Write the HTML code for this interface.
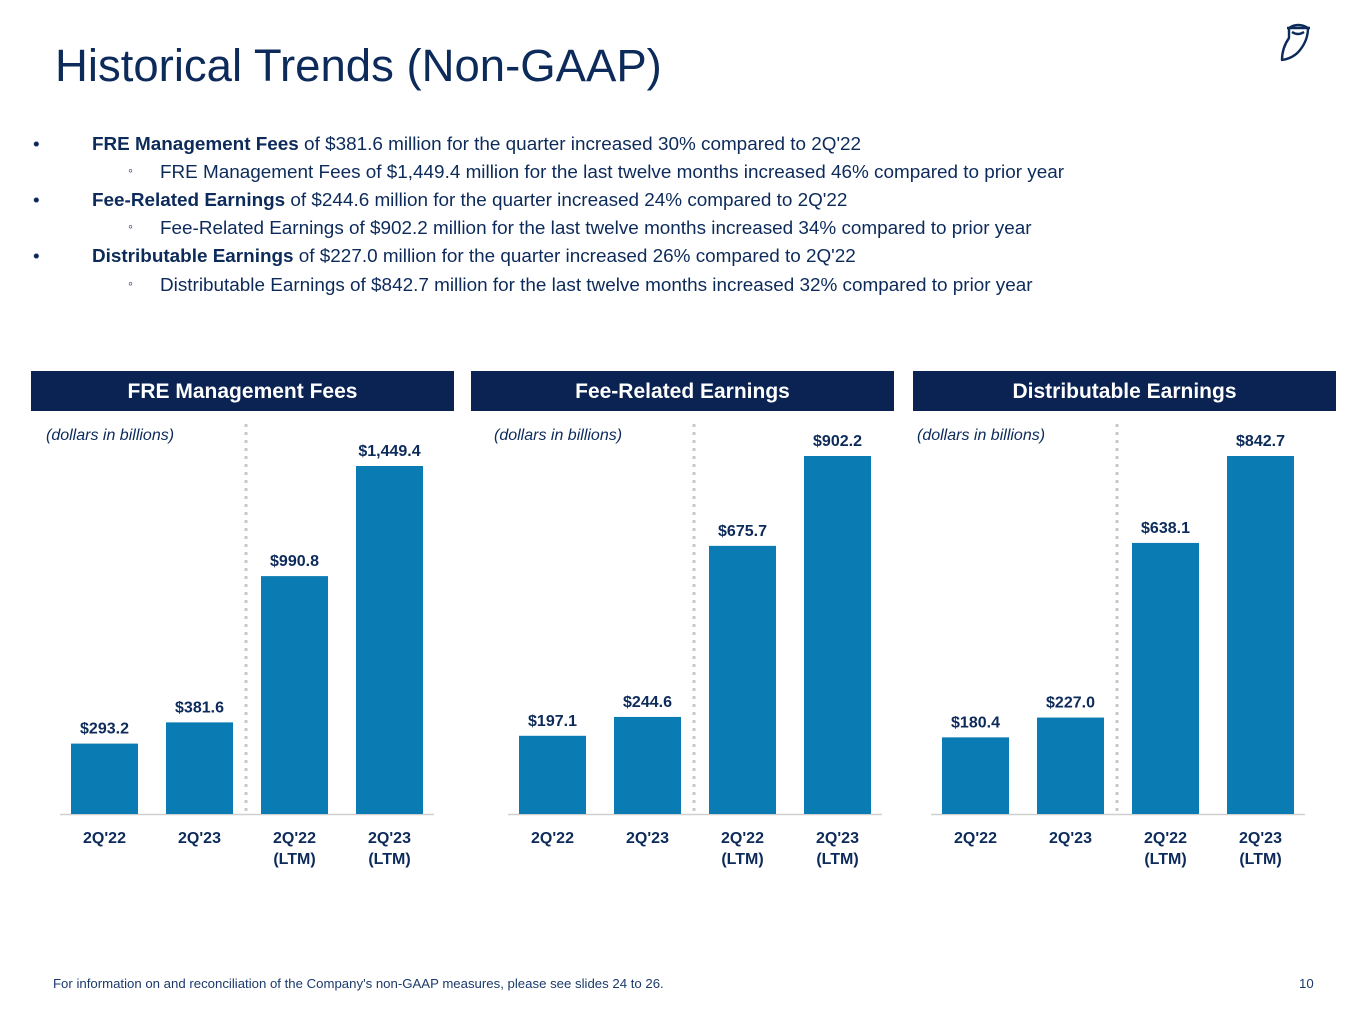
<!DOCTYPE html>
<html><head><meta charset="utf-8"><style>
body{margin:0;width:1365px;height:1024px;background:#fff;font-family:"Liberation Sans",Arial,sans-serif;position:relative;overflow:hidden}
.a{position:absolute}
h1{position:absolute;left:55px;top:40px;margin:0;font-weight:normal;font-size:45.5px;color:#0c2a5a}
.b{position:absolute;font-size:18.9px;color:#0c2a5a;white-space:nowrap}
.d{position:absolute;font-size:18.9px;color:#0c2a5a}
.hdr{position:absolute;top:371px;height:40px;width:423px;background:#0a2352;color:#fff;font-weight:bold;font-size:21px;text-align:center;line-height:42px}
.foot{position:absolute;top:976px;font-size:13.2px;color:#1b3a6b}
</style></head><body>
<h1>Historical Trends (Non-GAAP)</h1>
<svg class="a" style="left:1276px;top:20px" width="46" height="46" viewBox="0 0 46 46"><g fill="none" stroke="#0c2a5a" stroke-width="2.4" stroke-linejoin="round"><path d="M13 8 Q22 2 32 8 Q32 20 24 30 Q18 38 6 40 Q6 28 13 18 Z"/><path d="M11 8 L34 8"/><path d="M16 12 Q22 16 28 12"/></g></svg>
<div class="d" style="left:33px;top:134px">•</div>
<div class="b" style="left:92px;top:134px"><b>FRE Management Fees</b> of $381.6 million for the quarter increased 30% compared to 2Q'22</div>
<div class="d" style="left:128px;top:162px;font-size:14px">◦</div>
<div class="b" style="left:160px;top:162px">FRE Management Fees of $1,449.4 million for the last twelve months increased 46% compared to prior year</div>
<div class="d" style="left:33px;top:190px">•</div>
<div class="b" style="left:92px;top:190px"><b>Fee-Related Earnings</b> of $244.6 million for the quarter increased 24% compared to 2Q'22</div>
<div class="d" style="left:128px;top:218px;font-size:14px">◦</div>
<div class="b" style="left:160px;top:218px">Fee-Related Earnings of $902.2 million for the last twelve months increased 34% compared to prior year</div>
<div class="d" style="left:33px;top:246px">•</div>
<div class="b" style="left:92px;top:246px"><b>Distributable Earnings</b> of $227.0 million for the quarter increased 26% compared to 2Q'22</div>
<div class="d" style="left:128px;top:275px;font-size:14px">◦</div>
<div class="b" style="left:160px;top:275px">Distributable Earnings of $842.7 million for the last twelve months increased 32% compared to prior year</div>
<div class="hdr" style="left:31px">FRE Management Fees</div>
<div class="hdr" style="left:471px">Fee-Related Earnings</div>
<div class="hdr" style="left:913px">Distributable Earnings</div>
<svg id="c" class="a" style="left:0;top:0" width="1365" height="1024"></svg>
<div class="foot" style="left:53px">For information on and reconciliation of the Company's non-GAAP measures, please see slides 24 to 26.</div>
<div class="foot" style="left:1299px">10</div>
<script>
const categories=["2Q'22","2Q'23","2Q'22|(LTM)","2Q'23|(LTM)"];
const freFees=[293.2,381.6,990.8,1449.4];
const freEarnings=[197.1,244.6,675.7,902.2];
const distEarnings=[180.4,227.0,638.1,842.7];
const panels=[{vals:freFees,x0:71,maxH:348,name:'fre-fees'},{vals:freEarnings,x0:519,maxH:358,name:'fre-earnings'},{vals:distEarnings,x0:942,maxH:358,name:'de'}];
const svg=document.getElementById('c');const NS='http://www.w3.org/2000/svg';
function mk(t,a){const e=document.createElementNS(NS,t);for(const k in a)e.setAttribute(k,a[k]);svg.appendChild(e);return e;}
const base=814,step=95,bw=67;
panels.forEach(p=>{
 const mx=Math.max(...p.vals);const y=v=>base-v/mx*p.maxH;
 const it=mk('text',{x:p.x0-25,y:440,'font-size':16,'font-style':'italic',fill:'#0c2a5a','font-family':'Liberation Sans'});it.textContent='(dollars in billions)';
 
 
 const sep=mk('line',{x1:p.x0+175,x2:p.x0+175,y1:424,y2:base,stroke:'#c8c8c8','stroke-width':3,'stroke-dasharray':'3 5'});
 
 
 const ax=mk('line',{x1:p.x0-11,x2:p.x0+3*step+bw+11,y1:base+0.5,y2:base+0.5,stroke:'#d0d0d0','stroke-width':1.5});
 
 
 p.vals.forEach((v,i)=>{
  const x=p.x0+i*step;
  const r=mk('rect',{x:x,y:y(v),width:bw,height:base-y(v),fill:'#0a7bb3'});
  
  
  const t=mk('text',{x:x+bw/2,y:y(v)-10,'text-anchor':'middle','font-size':16,'font-weight':'bold',fill:'#0c2a5a','font-family':'Liberation Sans'});
  t.textContent='$'+v.toLocaleString('en-US',{minimumFractionDigits:1,maximumFractionDigits:1});
  
  
  categories[i].split('|').forEach((s,j)=>{
   const c=mk('text',{x:x+bw/2,y:843+j*21,'text-anchor':'middle','font-size':16,'font-weight':'bold',fill:'#0c2a5a','font-family':'Liberation Sans'});
   c.textContent=s;
   
   
  });
 });
});
</script>
</body></html>
